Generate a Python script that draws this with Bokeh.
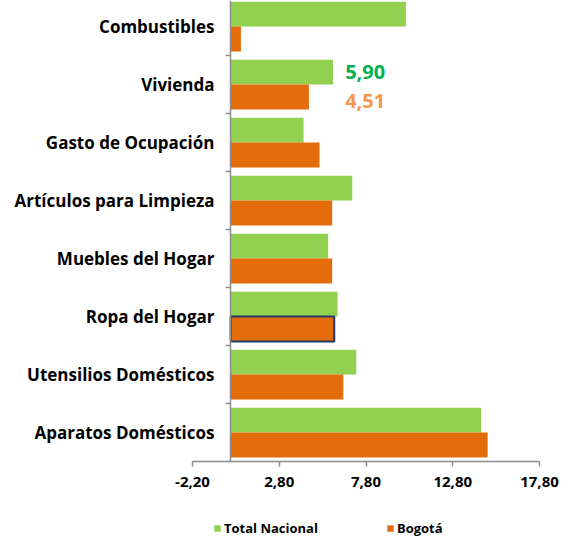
from bokeh.plotting import figure
from bokeh.models import (ColumnDataSource, FixedTicker, CustomJSTickFormatter, Legend,
                          LegendItem, Label, Range1d, LinearAxis)
from bokeh.embed import file_html
from bokeh.resources import INLINE

categories = ["Aparatos Domésticos", "Utensilios Domésticos", "Ropa del Hogar",
              "Muebles del Hogar", "Artículos para Limpieza", "Gasto de Ocupación",
              "Vivienda", "Combustibles"]
total_nacional = [14.43, 7.24, 6.16, 5.62, 7.01, 4.20, 5.90, 10.10]
bogota = [14.81, 6.49, 5.97, 5.85, 5.85, 5.12, 4.51, 0.59]
x_ticks = [-2.2, 2.8, 7.8, 12.8, 17.8]
series_names = ["Total Nacional", "Bogotá"]

GREEN = "#92D050"
ORANGE = "#E46C0A"
AXIS = "#8c8c8c"
FONT = "Open Sans"

# layout
W, H = 569, 542
AXIS_LEFT_PX, AXIS_RIGHT_PX = 192, 539      # where the value axis starts / ends
FRAME_LEFT, FRAME_RIGHT = 160, 560
PX_X = (AXIS_RIGHT_PX - AXIS_LEFT_PX) / (x_ticks[-1] - x_ticks[0])
X_START = x_ticks[0] - (AXIS_LEFT_PX - FRAME_LEFT) / PX_X
X_END = x_ticks[-1] + (FRAME_RIGHT - AXIS_RIGHT_PX) / PX_X

BAND = 58.0          # px per category
Y_TOP = 7.45
Y_AXIS = -0.5        # where the value axis sits
Y_BOTTOM = Y_TOP - H / BAND

pos = list(range(len(categories)))
bar_h = 0.43
src = ColumnDataSource(dict(
    cat=categories,
    y_tn=[p + bar_h / 2 for p in pos],
    y_bo=[p - bar_h / 2 for p in pos],
    tn=total_nacional,
    bo=bogota,
    bo_line=[ORANGE if c != "Ropa del Hogar" else "#1F3864" for c in categories],
    bo_lw=[0 if c != "Ropa del Hogar" else 2 for c in categories],
))

p = figure(width=W, height=H, output_backend="svg", toolbar_location=None,
           x_range=Range1d(X_START, X_END), y_range=Range1d(Y_BOTTOM, Y_TOP),
           min_border_left=FRAME_LEFT, min_border_right=W - FRAME_RIGHT,
           min_border_top=0, min_border_bottom=0)
p.outline_line_color = None
p.xgrid.visible = False
p.ygrid.visible = False
p.background_fill_color = "white"

r_tn = p.hbar(y="y_tn", right="tn", left=0, height=bar_h, source=src,
              fill_color=GREEN, line_color=None)
r_bo = p.hbar(y="y_bo", right="bo", left=0, height=bar_h, source=src,
              fill_color=ORANGE, line_color="bo_line", line_width="bo_lw")

# x axis, placed at the bottom of the category area
xa = p.xaxis[0]
xa.fixed_location = Y_AXIS
xa.bounds = (x_ticks[0], x_ticks[-1])
xa.ticker = FixedTicker(ticks=x_ticks)
xa.formatter = CustomJSTickFormatter(code="return tick.toFixed(2).replace('.', ',');")
xa.axis_line_color = AXIS
xa.axis_line_width = 1.5
xa.major_tick_line_color = AXIS
xa.major_tick_line_width = 1.5
xa.major_tick_in = 0
xa.major_tick_out = 5
xa.minor_tick_line_color = None
xa.major_label_text_font = FONT
xa.major_label_text_font_style = "bold"
xa.major_label_text_font_size = "15px"
xa.major_label_text_color = "black"
xa.major_label_standoff = 10

# category labels: left axis, labels pushed into the plot area
ya = p.yaxis[0]
ya.ticker = FixedTicker(ticks=pos)
ya.major_label_overrides = {i: c for i, c in enumerate(categories)}
ya.axis_line_color = None
ya.major_tick_line_color = None
ya.minor_tick_line_color = None
ya.major_label_text_font = FONT
ya.major_label_text_font_style = "bold"
ya.major_label_text_font_size = "17px"
ya.major_label_text_color = "black"
ya.major_label_standoff = -60

# vertical axis line at x = 0 with ticks between categories
ya0 = LinearAxis(fixed_location=0, bounds=(Y_AXIS, Y_TOP),
                 ticker=FixedTicker(ticks=[], minor_ticks=[i + 0.5 for i in range(len(categories) - 1)]))
ya0.axis_line_color = AXIS
ya0.axis_line_width = 1.5
ya0.major_tick_line_color = None
ya0.minor_tick_line_color = AXIS
ya0.minor_tick_line_width = 1.5
ya0.minor_tick_in = 0
ya0.minor_tick_out = 5
ya0.major_label_text_color = None
p.add_layout(ya0, "left")

# Vivienda value labels
vi = categories.index("Vivienda")
p.add_layout(Label(x=6.6, y=vi + 0.21, text=f"{total_nacional[vi]:.2f}".replace(".", ","),
                   text_font=FONT, text_font_style="bold", text_font_size="20px",
                   text_color="#00B050", text_baseline="middle"))
p.add_layout(Label(x=6.6, y=vi - 0.29, text=f"{bogota[vi]:.2f}".replace(".", ","),
                   text_font=FONT, text_font_style="bold", text_font_size="20px",
                   text_color="#F79646", text_baseline="middle"))

legend = Legend(items=[LegendItem(label=series_names[0], renderers=[r_tn]),
                       LegendItem(label=series_names[1], renderers=[r_bo])],
                orientation="horizontal", location=(213 - FRAME_LEFT, 5),
                glyph_width=8, glyph_height=8, label_height=14, label_standoff=3,
                spacing=68, padding=0, margin=0,
                border_line_color=None, background_fill_alpha=0,
                label_text_font=FONT, label_text_font_style="bold",
                label_text_font_size="13px", label_text_color="black")
p.add_layout(legend, "center")

open("out.html", "w").write(file_html(p, INLINE))
